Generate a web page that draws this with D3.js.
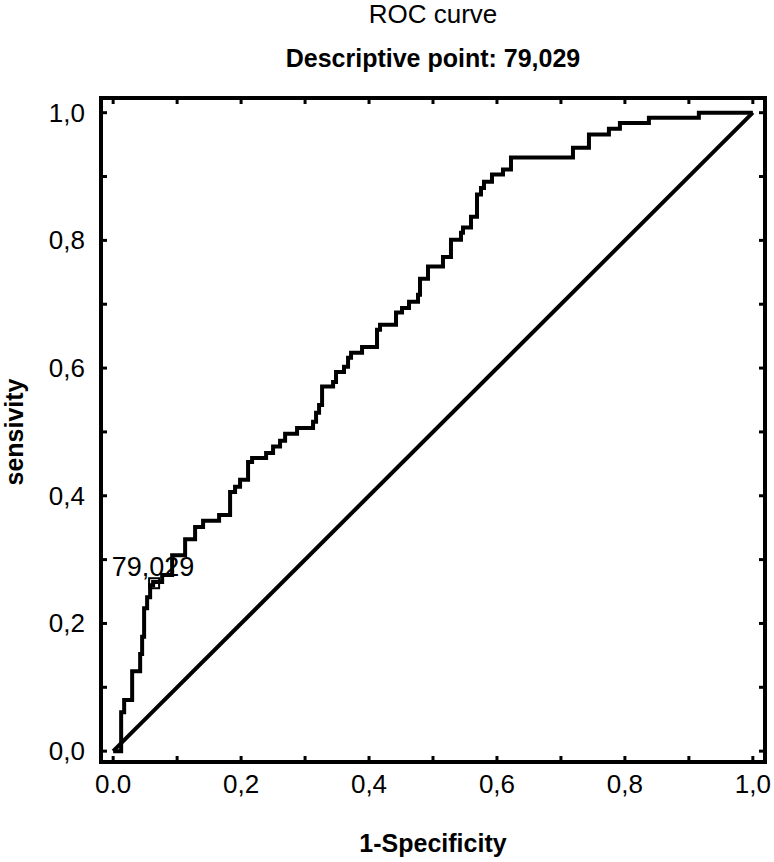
<!DOCTYPE html>
<html>
<head>
<meta charset="utf-8">
<script src="https://cdn.jsdelivr.net/npm/d3@7/dist/d3.min.js"></script>
<style>
  html, body { margin: 0; padding: 0; background: #fff; }
  svg { display: block; }
  text { font-family: "Liberation Sans", Arial, sans-serif; fill: #000; }
</style>
</head>
<body>
<svg id="chart" width="774" height="862"></svg>
<script>
// ---- data ----
const titleText = "ROC curve";
const subtitleText = "Descriptive point: 79,029";
const xAxisTitle = "1-Specificity";
const yAxisTitle = "sensivity";

// ROC step vertices (1-specificity, sensitivity)
const fpr = [0, 0.0125, 0.0172, 0.0297, 0.0422, 0.0453, 0.0484, 0.0531, 0.0578, 0.0625,
  0.0766, 0.0922, 0.1125, 0.1281, 0.1406, 0.1656, 0.1828, 0.1906, 0.1984, 0.2109,
  0.2172, 0.2391, 0.25, 0.2609, 0.2688, 0.2875, 0.3125, 0.3172, 0.3219, 0.3266,
  0.3438, 0.3484, 0.3609, 0.3672, 0.3719, 0.3891, 0.4125, 0.4172, 0.4422, 0.4516,
  0.4625, 0.4766, 0.4797, 0.4922, 0.5156, 0.5281, 0.5438, 0.5469, 0.5594, 0.5688,
  0.575, 0.5797, 0.5922, 0.6094, 0.6219, 0.7188, 0.7438, 0.775, 0.7922, 0.8375,
  0.9156, 1.0];
const tpr = [0, 0.061, 0.080, 0.125, 0.152, 0.179, 0.224, 0.241, 0.260, 0.265,
  0.276, 0.307, 0.332, 0.351, 0.361, 0.370, 0.406, 0.414, 0.425, 0.453,
  0.459, 0.467, 0.477, 0.486, 0.497, 0.506, 0.516, 0.530, 0.542, 0.571,
  0.578, 0.594, 0.602, 0.616, 0.624, 0.633, 0.660, 0.668, 0.687, 0.694,
  0.704, 0.715, 0.740, 0.759, 0.774, 0.801, 0.812, 0.820, 0.837, 0.872,
  0.882, 0.892, 0.903, 0.911, 0.930, 0.945, 0.966, 0.975, 0.984, 0.992,
  1.0, 1.0];

// reference (chance) line
const diagX = [0, 1];
const diagY = [0, 1];

// descriptive point
const cutPoint = { x: 0.064, y: 0.263, label: "79,029" };

// ticks
const tickValues = [0, 0.1, 0.2, 0.3, 0.4, 0.5, 0.6, 0.7, 0.8, 0.9, 1.0];
const xTickLabels = ["0.0", "0,2", "0,4", "0,6", "0,8", "1,0"];
const yTickLabels = ["0,0", "0,2", "0,4", "0,6", "0,8", "1,0"];
const labelValues = [0, 0.2, 0.4, 0.6, 0.8, 1.0];

// ---- layout ----
const svg = d3.select("#chart");
const x = d3.scaleLinear().domain([-0.019, 1.019]).range([101, 765]);
const y = d3.scaleLinear().domain([-0.017, 1.023]).range([762, 98]);
const [x0, x1] = x.range();
const [y0, y1] = y.range();

// frame
svg.append("rect")
  .attr("x", x0).attr("y", y1)
  .attr("width", x1 - x0).attr("height", y0 - y1)
  .attr("fill", "none").attr("stroke", "#000").attr("stroke-width", 4);

// inward ticks on all four sides
const tl = 6;
const ticksG = svg.append("g").attr("stroke", "#000").attr("stroke-width", 3);
tickValues.forEach(v => {
  ticksG.append("line").attr("x1", x(v)).attr("x2", x(v)).attr("y1", y0).attr("y2", y0 - tl);
  ticksG.append("line").attr("x1", x(v)).attr("x2", x(v)).attr("y1", y1).attr("y2", y1 + tl);
  ticksG.append("line").attr("y1", y(v)).attr("y2", y(v)).attr("x1", x0).attr("x2", x0 + tl);
  ticksG.append("line").attr("y1", y(v)).attr("y2", y(v)).attr("x1", x1).attr("x2", x1 - tl);
});

// tick labels
labelValues.forEach((v, i) => {
  svg.append("text")
    .attr("x", x(v)).attr("y", 793)
    .attr("text-anchor", "middle")
    .attr("font-size", 26)
    .text(xTickLabels[i]);
  svg.append("text")
    .attr("x", 85).attr("y", y(v) + 9)
    .attr("text-anchor", "end")
    .attr("font-size", 26)
    .text(yTickLabels[i]);
});

// diagonal
svg.append("line")
  .attr("x1", x(diagX[0])).attr("y1", y(diagY[0]))
  .attr("x2", x(diagX[1])).attr("y2", y(diagY[1]))
  .attr("stroke", "#000").attr("stroke-width", 4);

// ROC curve
const pts = fpr.map((d, i) => [d, tpr[i]]);
const line = d3.line().x(d => x(d[0])).y(d => y(d[1])).curve(d3.curveStepAfter);
svg.append("path")
  .attr("d", line(pts))
  .attr("fill", "none").attr("stroke", "#000")
  .attr("stroke-width", 4).attr("stroke-linejoin", "miter");

// descriptive point marker + label
svg.append("rect")
  .attr("x", x(cutPoint.x) - 5).attr("y", y(cutPoint.y) - 5)
  .attr("width", 10).attr("height", 10)
  .attr("fill", "none").attr("stroke", "#000").attr("stroke-width", 2);
svg.append("text")
  .attr("x", x(cutPoint.x) - 1).attr("y", y(cutPoint.y) - 7)
  .attr("text-anchor", "middle")
  .attr("font-size", 27)
  .text(cutPoint.label);

// titles
svg.append("text")
  .attr("x", 433).attr("y", 23)
  .attr("text-anchor", "middle").attr("font-size", 26)
  .text(titleText);
svg.append("text")
  .attr("x", 433).attr("y", 67)
  .attr("text-anchor", "middle").attr("font-size", 25).attr("font-weight", "bold")
  .text(subtitleText);

// axis titles
svg.append("text")
  .attr("x", 433).attr("y", 852)
  .attr("text-anchor", "middle").attr("font-size", 25).attr("font-weight", "bold")
  .text(xAxisTitle);
svg.append("text")
  .attr("transform", "translate(23,432) rotate(-90)")
  .attr("text-anchor", "middle").attr("font-size", 25).attr("font-weight", "bold")
  .text(yAxisTitle);
</script>
</body>
</html>
